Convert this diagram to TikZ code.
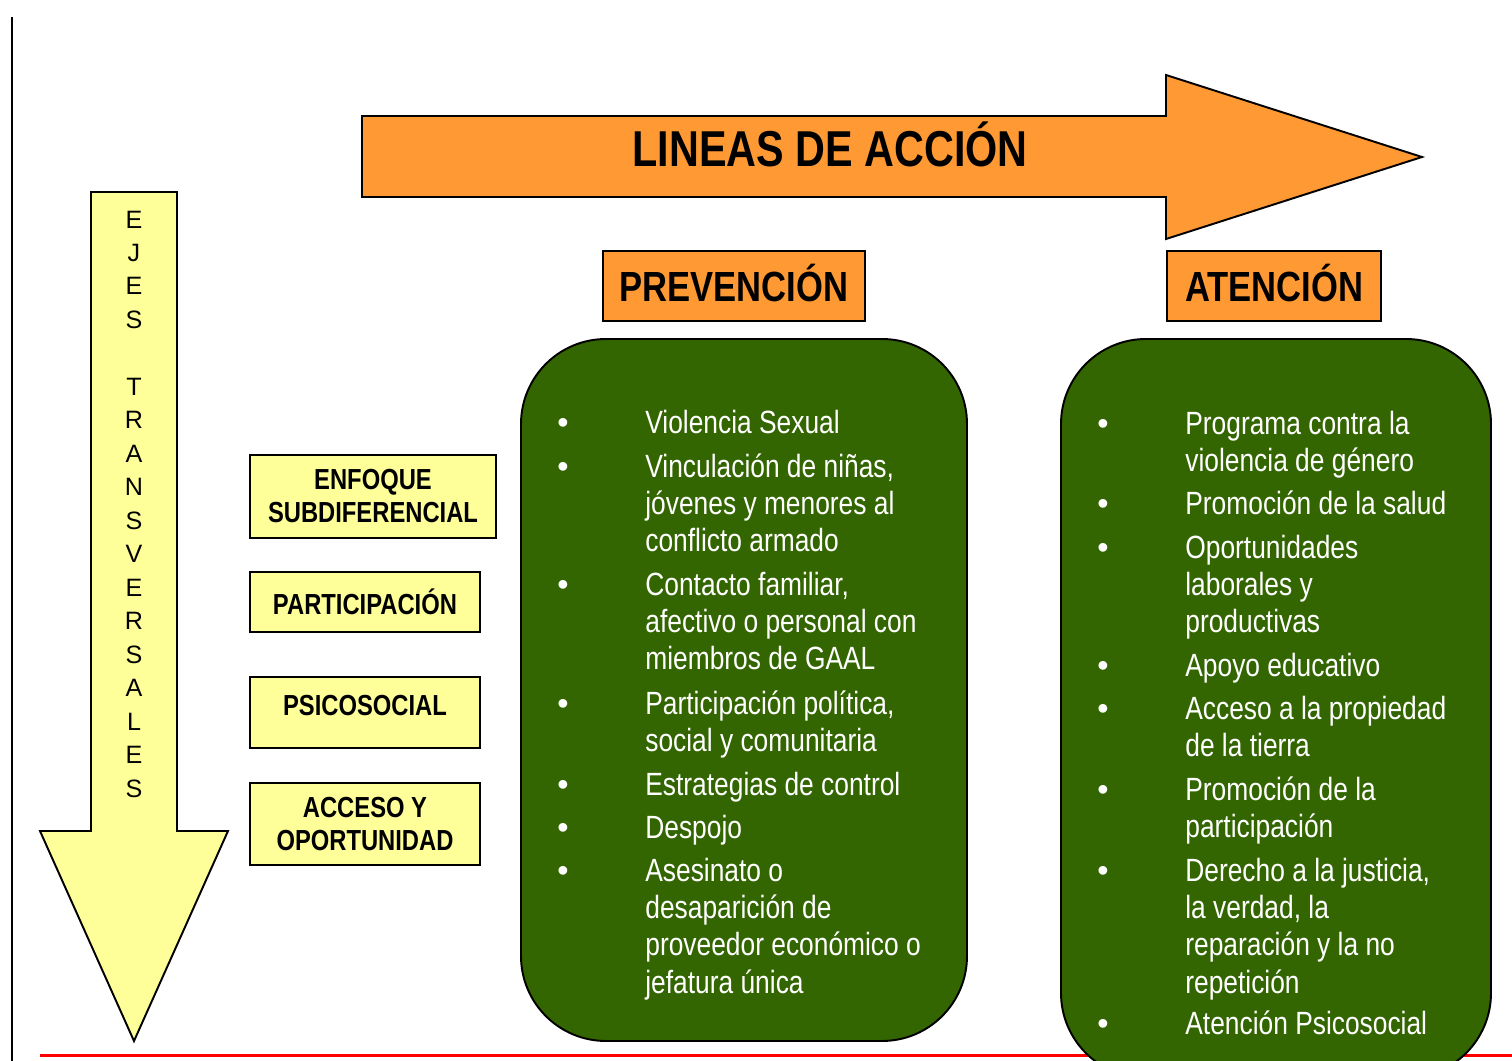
\documentclass[tikz,border=0pt]{standalone}
\usepackage{fontspec}
\setmainfont{Liberation Sans}
\newfontfamily\narrow{Liberation Sans}[FakeStretch=0.82]
\usetikzlibrary{positioning}
\definecolor{naranja}{HTML}{FF9933}
\definecolor{amarillo}{HTML}{FFFF99}
\definecolor{verde}{HTML}{336600}
% renglones con la base en la primera linea
\newcommand{\renglones}[2][l]{\begin{tabular}[t]{@{}#1@{}}#2\end{tabular}}

\begin{document}
\begin{tikzpicture}
[x=0.02cm,y=-0.02cm,
 eje/.style={rectangle,draw=black,fill=amarillo,line width=1.1pt,align=center,inner sep=0pt,font=\narrow\bfseries\fontsize{16.5}{18.8}\selectfont},
 linea/.style={rectangle,draw=black,fill=naranja,line width=1.1pt,inner sep=0pt,minimum height=1.4cm,text height=17.2pt,text depth=0pt,font=\narrow\bfseries\fontsize{24}{28}\selectfont},
 caja/.style={draw=black,fill=verde,line width=1.1pt,rounded corners=1.7cm},
 item/.style={anchor=base west,text=white,inner sep=0pt,font=\narrow\fontsize{18.3}{21.3}\selectfont},
 punto/.style={anchor=base,text=white,inner sep=0pt,font=\fontsize{18.3}{21.3}\selectfont}]
\useasboundingbox (0,0) rectangle (1512,1061);
\clip (0,0) rectangle (1512,1061);

% margen y linea roja
\draw [line width=1.7pt] (12,17) -- (12,1061);
\draw [red,line width=1.7pt] (40,1055) -- (1512,1055);

% flecha de lineas de accion
\draw [fill=naranja,line width=1.1pt] (362,116) -- (1166,116) -- (1166,75) -- (1422,157)
  -- (1166,239) -- (1166,197) -- (362,197) -- cycle;
\node (titulo) at (830,167) [anchor=base,font=\narrow\bfseries\fontsize{28.7}{34}\selectfont] {LINEAS DE ACCIÓN};

\node[linea,minimum width=5.24cm] (prev) at (734,286) {PREVENCIÓN};
\node[linea,minimum width=4.28cm] (aten) at (1274,286) {ATENCIÓN};

% ejes transversales
\draw [fill=amarillo,line width=1.1pt] (91,192) -- (177,192) -- (177,831) -- (228,831)
  -- (134,1041) -- (40,831) -- (91,831) -- cycle;
\node (ejes) at (134,228) [anchor=base,inner sep=0pt,font=\fontsize{14.3}{19.06}\selectfont]
  {\renglones[c]{E\\J\\E\\S\\~\\T\\R\\A\\N\\S\\V\\E\\R\\S\\A\\L\\E\\S}};

\node[eje,minimum width=4.92cm,minimum height=1.66cm] (enfoque) at (373,496.5) {ENFOQUE\\SUBDIFERENCIAL};
\node[eje,minimum width=4.6cm,minimum height=1.2cm] (partic) at (365,602) {PARTICIPACIÓN};
\node[eje,minimum width=4.6cm,minimum height=1.42cm] (psico) at (365,712.5) {PSICOSOCIAL\\[-11pt]~};
\node[eje,minimum width=4.6cm,minimum height=1.64cm] (acceso) at (365,824) {ACCESO Y\\OPORTUNIDAD};

% cajas verdes
\draw [caja] (521,339) rectangle (967,1041);
\draw [caja] (1061,339) rectangle (1491,1078);

\foreach \y/\t [count=\i] in {433/Violencia Sexual,
  477/{Vinculación de niñas,\\jóvenes y menores al\\conflicto armado},
  595/{Contacto familiar,\\afectivo o personal con\\miembros de GAAL},
  714/{Participación política,\\social y comunitaria},
  795/Estrategias de control,
  838/Despojo,
  881/{Asesinato o\\desaparición de\\proveedor económico o\\jefatura única}}
{
  \node[punto] (pb\i) at (563,\y) {•};
  \node[item] (p\i) at (645,\y) {\renglones{\t}};
}

\foreach \y/\t [count=\i] in {434/{Programa contra la\\violencia de género},
  514/Promoción de la salud,
  558/{Oportunidades\\laborales y\\productivas},
  676/Apoyo educativo,
  719/{Acceso a la propiedad\\de la tierra},
  800/{Promoción de la\\participación},
  881/{Derecho a la justicia,\\la verdad, la\\reparación y la no\\repetición},
  1034/Atención Psicosocial}
{
  \node[punto] (ab\i) at (1103,\y) {•};
  \node[item] (a\i) at (1185,\y) {\renglones{\t}};
}
\end{tikzpicture}
\end{document}
